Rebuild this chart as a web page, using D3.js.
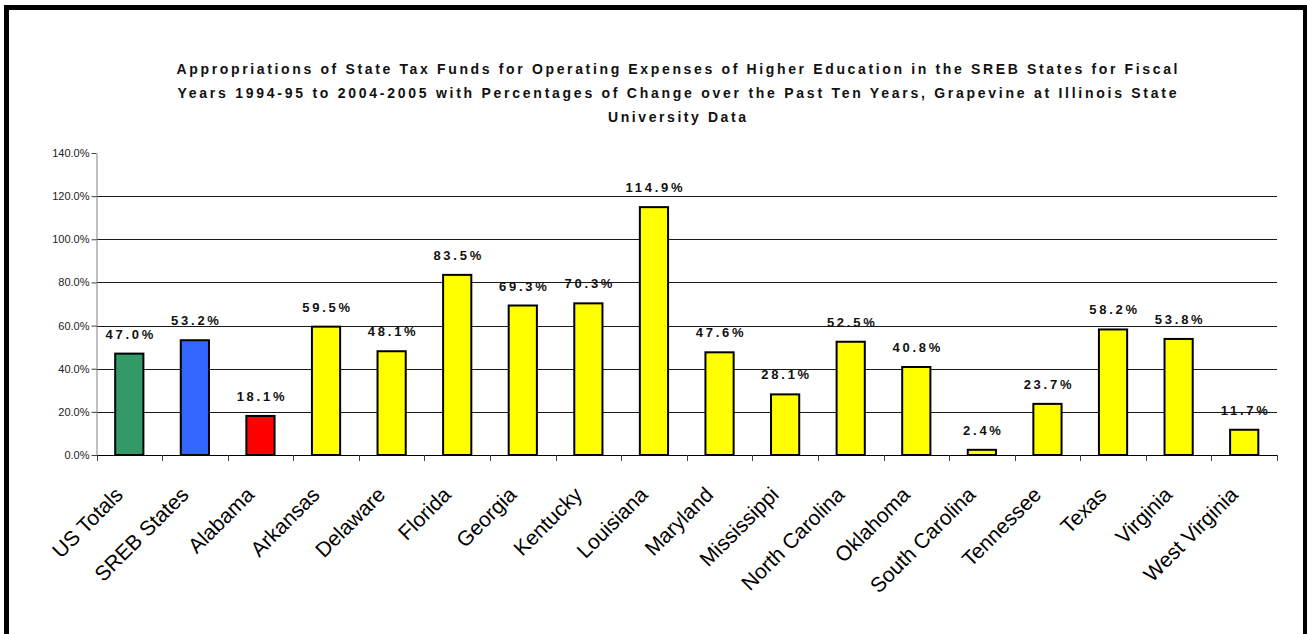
<!DOCTYPE html>
<html>
<head>
<meta charset="utf-8">
<script src="https://cdn.jsdelivr.net/npm/d3@7"></script>
<style>
  body { margin: 0; background: white; }
  svg { display: block; font-family: Arial, "Liberation Sans", sans-serif; }
</style>
</head>
<body>
<div id="chart"></div>
<script>
const categories = ['US Totals', 'SREB States', 'Alabama', 'Arkansas', 'Delaware', 'Florida', 'Georgia',
  'Kentucky', 'Louisiana', 'Maryland', 'Mississippi', 'North Carolina', 'Oklahoma', 'South Carolina',
  'Tennessee', 'Texas', 'Virginia', 'West Virginia'];
const values = [47.0, 53.2, 18.1, 59.5, 48.1, 83.5, 69.3, 70.3, 114.9, 47.6, 28.1, 52.5, 40.8, 2.4, 23.7, 58.2, 53.8, 11.7];
const barColors = ['#339966', '#3366ff', '#ff0000'];  // rest are yellow
const yTicks = [0, 20, 40, 60, 80, 100, 120, 140];
const titleLines = [
  'Appropriations of State Tax Funds for Operating Expenses of Higher Education in the SREB States for Fiscal',
  'Years 1994-95 to 2004-2005 with Percentages of Change over the Past Ten Years, Grapevine at Illinois State',
  'University Data'
];

const width = 1307, height = 634;
const plot = { left: 96.5, right: 1277, top: 153, bottom: 455 };

const svg = d3.select('#chart').append('svg')
  .attr('width', width)
  .attr('height', height);

// outer frame
svg.append('rect')
  .attr('x', 6.5).attr('y', 7.5)
  .attr('width', 1299).attr('height', 700)
  .attr('fill', 'white')
  .attr('stroke', '#000')
  .attr('stroke-width', 5);

// title
const titleWidths = [1001, 999, 138];
svg.append('g').selectAll('text')
  .data(titleLines)
  .enter()
  .append('text')
  .attr('x', 677)
  .attr('y', (d, i) => 74 + i * 24)
  .attr('text-anchor', 'middle')
  .attr('font-size', 14)
  .attr('font-weight', 'bold')
  .attr('fill', '#111')
  .attr('textLength', (d, i) => titleWidths[i])
  .attr('lengthAdjust', 'spacing')
  .text(d => d);

const x = d3.scaleBand()
  .domain(categories)
  .range([plot.left, plot.right])
  .paddingInner(0.57)
  .paddingOuter(0.285);

const y = d3.scaleLinear()
  .domain([0, 140])
  .range([plot.bottom, plot.top]);

// gridlines
svg.append('g').selectAll('line')
  .data(yTicks.filter(t => t > 0 && t < 140))
  .enter()
  .append('line')
  .attr('x1', plot.left).attr('x2', plot.right)
  .attr('y1', d => Math.round(y(d)) + 0.5)
  .attr('y2', d => Math.round(y(d)) + 0.5)
  .attr('stroke', '#1a1a1a')
  .attr('stroke-width', 1);

// y axis
const yAxis = svg.append('g')
  .attr('transform', `translate(${plot.left},0)`)
  .call(d3.axisLeft(y).tickValues(yTicks).tickSize(5).tickSizeOuter(0)
    .tickFormat(d => d.toFixed(1) + '%'));
yAxis.select('.domain').attr('stroke', '#808080');
yAxis.selectAll('.tick line').attr('stroke', '#404040');
yAxis.selectAll('.tick text')
  .attr('font-family', 'Arial, "Liberation Sans", sans-serif')
  .attr('font-size', 11)
  .attr('fill', '#222')
  .attr('x', -7);

// bars
svg.append('g').selectAll('rect')
  .data(values)
  .enter()
  .append('rect')
  .attr('x', (d, i) => x(categories[i]))
  .attr('y', d => y(d))
  .attr('width', x.bandwidth())
  .attr('height', d => y(0) - y(d))
  .attr('fill', (d, i) => barColors[i] || '#ffff00')
  .attr('stroke', '#000')
  .attr('stroke-width', 2);

// value labels
svg.append('g').selectAll('text')
  .data(values)
  .enter()
  .append('text')
  .attr('x', (d, i) => x(categories[i]) + x.bandwidth() / 2 + 1.5)
  .attr('y', d => y(d) - 15)
  .attr('text-anchor', 'middle')
  .attr('font-size', 13)
  .attr('font-weight', 'bold')
  .attr('letter-spacing', 2.75)
  .attr('fill', '#111')
  .text(d => d.toFixed(1) + '%');

// x axis
const step = x.step();
const xEdges = d3.range(categories.length + 1).map(i => plot.left + i * step);
const xAxis = svg.append('g');
xAxis.append('line')
  .attr('x1', plot.left).attr('x2', plot.right)
  .attr('y1', plot.bottom + 0.5).attr('y2', plot.bottom + 0.5)
  .attr('stroke', '#000');
xAxis.selectAll('line.tick')
  .data(xEdges)
  .enter()
  .append('line')
  .attr('class', 'tick')
  .attr('x1', d => Math.round(d) + 0.5).attr('x2', d => Math.round(d) + 0.5)
  .attr('y1', plot.bottom).attr('y2', plot.bottom + 6)
  .attr('stroke', '#404040');

xAxis.selectAll('text')
  .data(categories)
  .enter()
  .append('text')
  .attr('transform', d => `translate(${x(d) + x.bandwidth() / 2 - 5},${plot.bottom + 41}) rotate(-45)`)
  .attr('text-anchor', 'end')
  .attr('font-size', 21)
  .attr('fill', '#000')
  .text(d => d);
</script>
</body>
</html>
